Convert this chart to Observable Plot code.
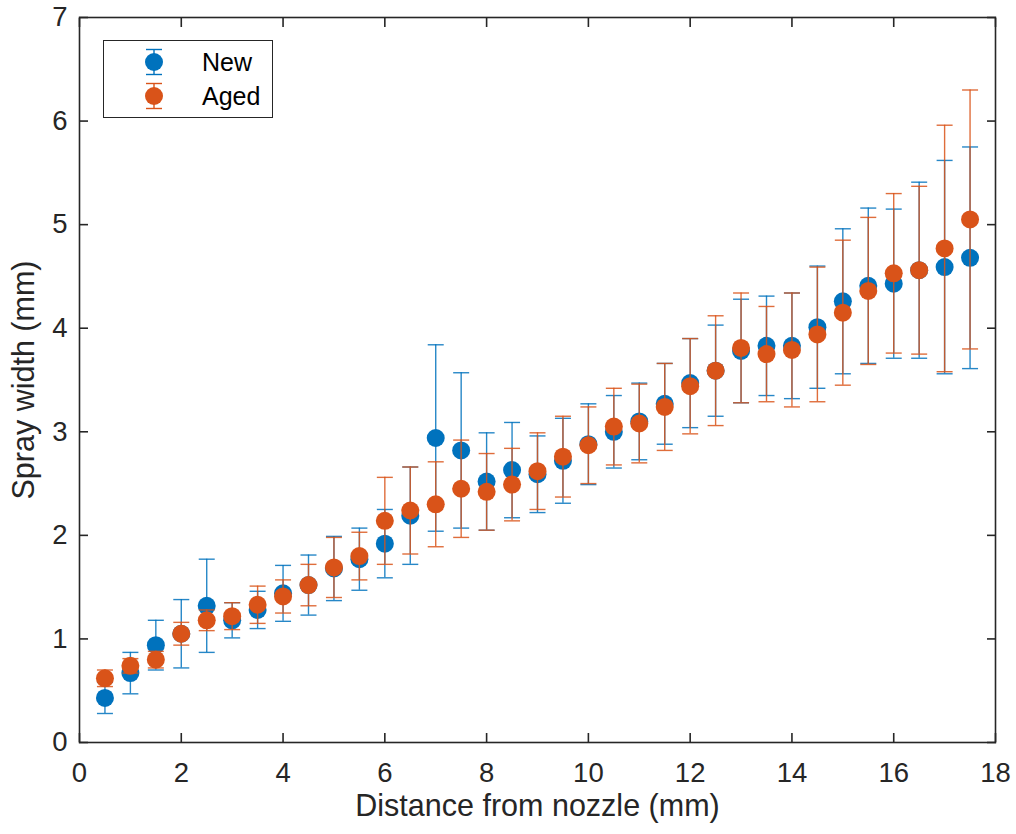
<!DOCTYPE html>
<html><head><meta charset="utf-8">
<script src="https://cdn.jsdelivr.net/npm/d3@7"></script>
<script src="https://cdn.jsdelivr.net/npm/@observablehq/plot@0.6"></script>
<style>html,body{margin:0;padding:0;background:#fff;} #chart svg{display:block;}</style>
</head><body><div id="chart"></div>
<script>
const distance = [0.5,1,1.5,2,2.5,3,3.5,4,4.5,5,5.5,6,6.5,7,7.5,8,8.5,9,9.5,10,10.5,11,11.5,12,12.5,13,13.5,14,14.5,15,15.5,16,16.5,17,17.5];
const newWidth = [0.43,0.67,0.94,1.05,1.32,1.18,1.28,1.44,1.52,1.68,1.77,1.92,2.19,2.94,2.82,2.52,2.63,2.59,2.72,2.88,3.00,3.10,3.27,3.47,3.59,3.78,3.83,3.83,4.01,4.26,4.41,4.43,4.56,4.59,4.68];
const newErr = [0.15,0.20,0.24,0.33,0.45,0.17,0.18,0.27,0.29,0.31,0.30,0.33,0.47,0.90,0.75,0.47,0.46,0.37,0.41,0.39,0.35,0.37,0.39,0.43,0.44,0.50,0.48,0.51,0.59,0.70,0.75,0.72,0.85,1.03,1.07];
const agedWidth = [0.62,0.74,0.80,1.05,1.18,1.22,1.33,1.41,1.52,1.69,1.80,2.14,2.24,2.30,2.45,2.42,2.49,2.62,2.76,2.87,3.05,3.08,3.24,3.44,3.59,3.81,3.75,3.79,3.94,4.15,4.36,4.53,4.56,4.77,5.05];
const agedErr = [0.08,0.07,0.08,0.11,0.10,0.13,0.18,0.16,0.20,0.29,0.23,0.42,0.42,0.41,0.47,0.37,0.35,0.37,0.39,0.37,0.37,0.38,0.42,0.46,0.53,0.53,0.46,0.55,0.65,0.70,0.71,0.77,0.81,1.19,1.25];
const seriesNames = ["New", "Aged"];
const seriesColors = ["#0072BD", "#D95319"];
const xTicks = [0,2,4,6,8,10,12,14,16,18];
const yTicks = [0,1,2,3,4,5,6,7];
const xLabel = "Distance from nozzle (mm)";
const yLabel = "Spray width (mm)";

const seriesData = [newWidth, agedWidth];
const seriesErr = [newErr, agedErr];
const rowsBySeries = seriesNames.map((name, s) => distance.map((d, i) => ({
  series: name, x: d, y: seriesData[s][i],
  lo: seriesData[s][i] - seriesErr[s][i], hi: seriesData[s][i] + seriesErr[s][i]
})));

const capSymbol = { draw(ctx) { ctx.moveTo(-8, 0); ctx.lineTo(8, 0); } };
const font = "'Liberation Sans', Arial, Helvetica, sans-serif";
const ink = "#262626";
const fmt = d => String(d);

const dataMarks = [];
rowsBySeries.forEach((rows, s) => {
  const c = seriesColors[s];
  dataMarks.push(
    Plot.ruleX(rows, {x: "x", y1: "lo", y2: "hi", stroke: c, strokeWidth: 1.4, strokeOpacity: 0.85}),
    Plot.dot(rows, {x: "x", y: "hi", symbol: capSymbol, fill: "none", stroke: c, strokeWidth: 1.4, strokeOpacity: 0.85}),
    Plot.dot(rows, {x: "x", y: "lo", symbol: capSymbol, fill: "none", stroke: c, strokeWidth: 1.4, strokeOpacity: 0.85}),
    Plot.dot(rows, {x: "x", y: "y", r: 9, fill: c, stroke: "none"})
  );
});

const chart = Plot.plot({
  width: 1016, height: 834,
  marginLeft: 79, marginRight: 21, marginTop: 17, marginBottom: 92,
  style: {fontFamily: font, color: ink, background: "#fff"},
  x: {domain: [0, 18]},
  y: {domain: [0, 7]},
  marks: [
    ...dataMarks,
    Plot.frame({stroke: ink, strokeWidth: 1.6}),
    Plot.axisX({anchor: "bottom", ticks: xTicks, tickSize: -9, tickFormat: () => "", label: null, strokeWidth: 1.6}),
    Plot.axisX({anchor: "top", ticks: xTicks, tickSize: -9, tickFormat: () => "", label: null, strokeWidth: 1.6}),
    Plot.axisY({anchor: "left", ticks: yTicks, tickSize: -9, tickFormat: () => "", label: null, strokeWidth: 1.6}),
    Plot.axisY({anchor: "right", ticks: yTicks, tickSize: -9, tickFormat: () => "", label: null, strokeWidth: 1.6}),
    Plot.axisX({anchor: "bottom", ticks: xTicks, tickSize: 0, tickPadding: 20, fontSize: 27.5, tickFormat: fmt, label: null}),
    Plot.axisY({anchor: "left", ticks: yTicks, tickSize: 0, tickPadding: 12, fontSize: 27.5, tickFormat: fmt, label: null}),
    Plot.axisX({anchor: "bottom", ticks: [], label: xLabel, labelAnchor: "center", labelArrow: "none", labelOffset: 73, fontSize: 30.5}),
    Plot.axisY({anchor: "left", ticks: [], label: yLabel, labelAnchor: "center", labelArrow: "none", labelOffset: 67, fontSize: 30.5})
  ]
});
document.getElementById("chart").appendChild(chart);

// legend inside the axes (upper left), as in the reference
const svg = d3.select(chart);
const lg = svg.append("g").attr("font-family", font).attr("text-anchor", "start");
lg.append("rect").attr("x", 103.5).attr("y", 40.5).attr("width", 169).attr("height", 77)
  .attr("fill", "#fff").attr("stroke", ink).attr("stroke-width", 1);
seriesNames.forEach((name, i) => {
  const cy = 62 + i * 34, cx = 154, c = seriesColors[i];
  lg.append("line").attr("x1", cx).attr("x2", cx).attr("y1", cy - 12.5).attr("y2", cy + 12.5).attr("stroke", c).attr("stroke-width", 1.4);
  lg.append("line").attr("x1", cx - 8).attr("x2", cx + 8).attr("y1", cy - 12.5).attr("y2", cy - 12.5).attr("stroke", c).attr("stroke-width", 1.4);
  lg.append("line").attr("x1", cx - 8).attr("x2", cx + 8).attr("y1", cy + 12.5).attr("y2", cy + 12.5).attr("stroke", c).attr("stroke-width", 1.4);
  lg.append("circle").attr("cx", cx).attr("cy", cy).attr("r", 9).attr("fill", c);
  lg.append("text").attr("x", 202).attr("y", cy).attr("dy", "0.35em").attr("font-size", 25).attr("fill", "#000").text(name);
});
</script>
</body></html>
